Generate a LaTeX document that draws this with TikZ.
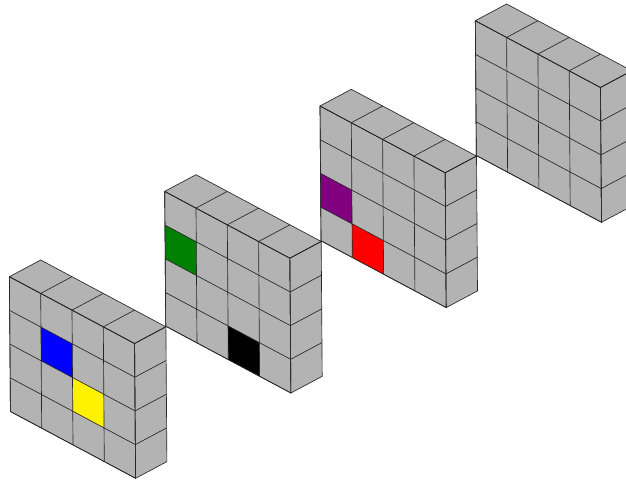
\documentclass[tikz,border=0pt]{standalone}
\definecolor{slabgray}{RGB}{179,179,179}
\definecolor{cellgreen}{RGB}{0,128,0}
\definecolor{cellpurple}{RGB}{128,0,128}
\tikzset{
  slabframe/.style={x={(31.3pt,-16.7pt)},y={(0.25pt,-33.7pt)},z={(31.3pt,16.7pt)},line width=0.65pt,draw=black!85,line join=round},
  slabface/.style={fill=slabgray},
}
\newcommand{\slabdraw}[3]{%
  \begin{scope}[shift={(#1pt,-#2pt)},slabframe]
    \filldraw[slabface] (0,0,0) -- (4,0,0) -- (4,4,0) -- (0,4,0) -- cycle;
    \filldraw[slabface] (0,0,0) -- (4,0,0) -- (4,0,1) -- (0,0,1) -- cycle;
    \filldraw[slabface] (4,0,0) -- (4,4,0) -- (4,4,1) -- (4,0,1) -- cycle;
    \foreach \cx/\cy/\cc in {#3} {
      \fill[\cc] (\cx,\cy,0) -- ++(1,0,0) -- ++(0,1,0) -- ++(-1,0,0) -- cycle;
    }
    \foreach \n in {1,2,3} {
      \draw (\n,0,1) -- (\n,0,0) -- (\n,4,0);
      \draw (0,\n,0) -- (4,\n,0) -- (4,\n,1);
    }
    \draw (0,0,0) -- (4,0,0) -- (4,4,0) -- (0,4,0) -- cycle;
    \draw (4,0,0) -- (4,0,1);
  \end{scope}%
}
\begin{document}
\begin{tikzpicture}
  \useasboundingbox (0pt,0pt) rectangle (626pt,-479pt);
  \clip (0pt,0pt) rectangle (626pt,-479pt);
  \slabdraw{9.4}{276.7}{1/1/blue,2/2/yellow}
  \slabdraw{164.7}{191.4}{0/1/cellgreen,2/3/black}
  \slabdraw{320}{106}{0/2/cellpurple,1/3/red}
  \slabdraw{475.3}{20.7}{}
\end{tikzpicture}
\end{document}
